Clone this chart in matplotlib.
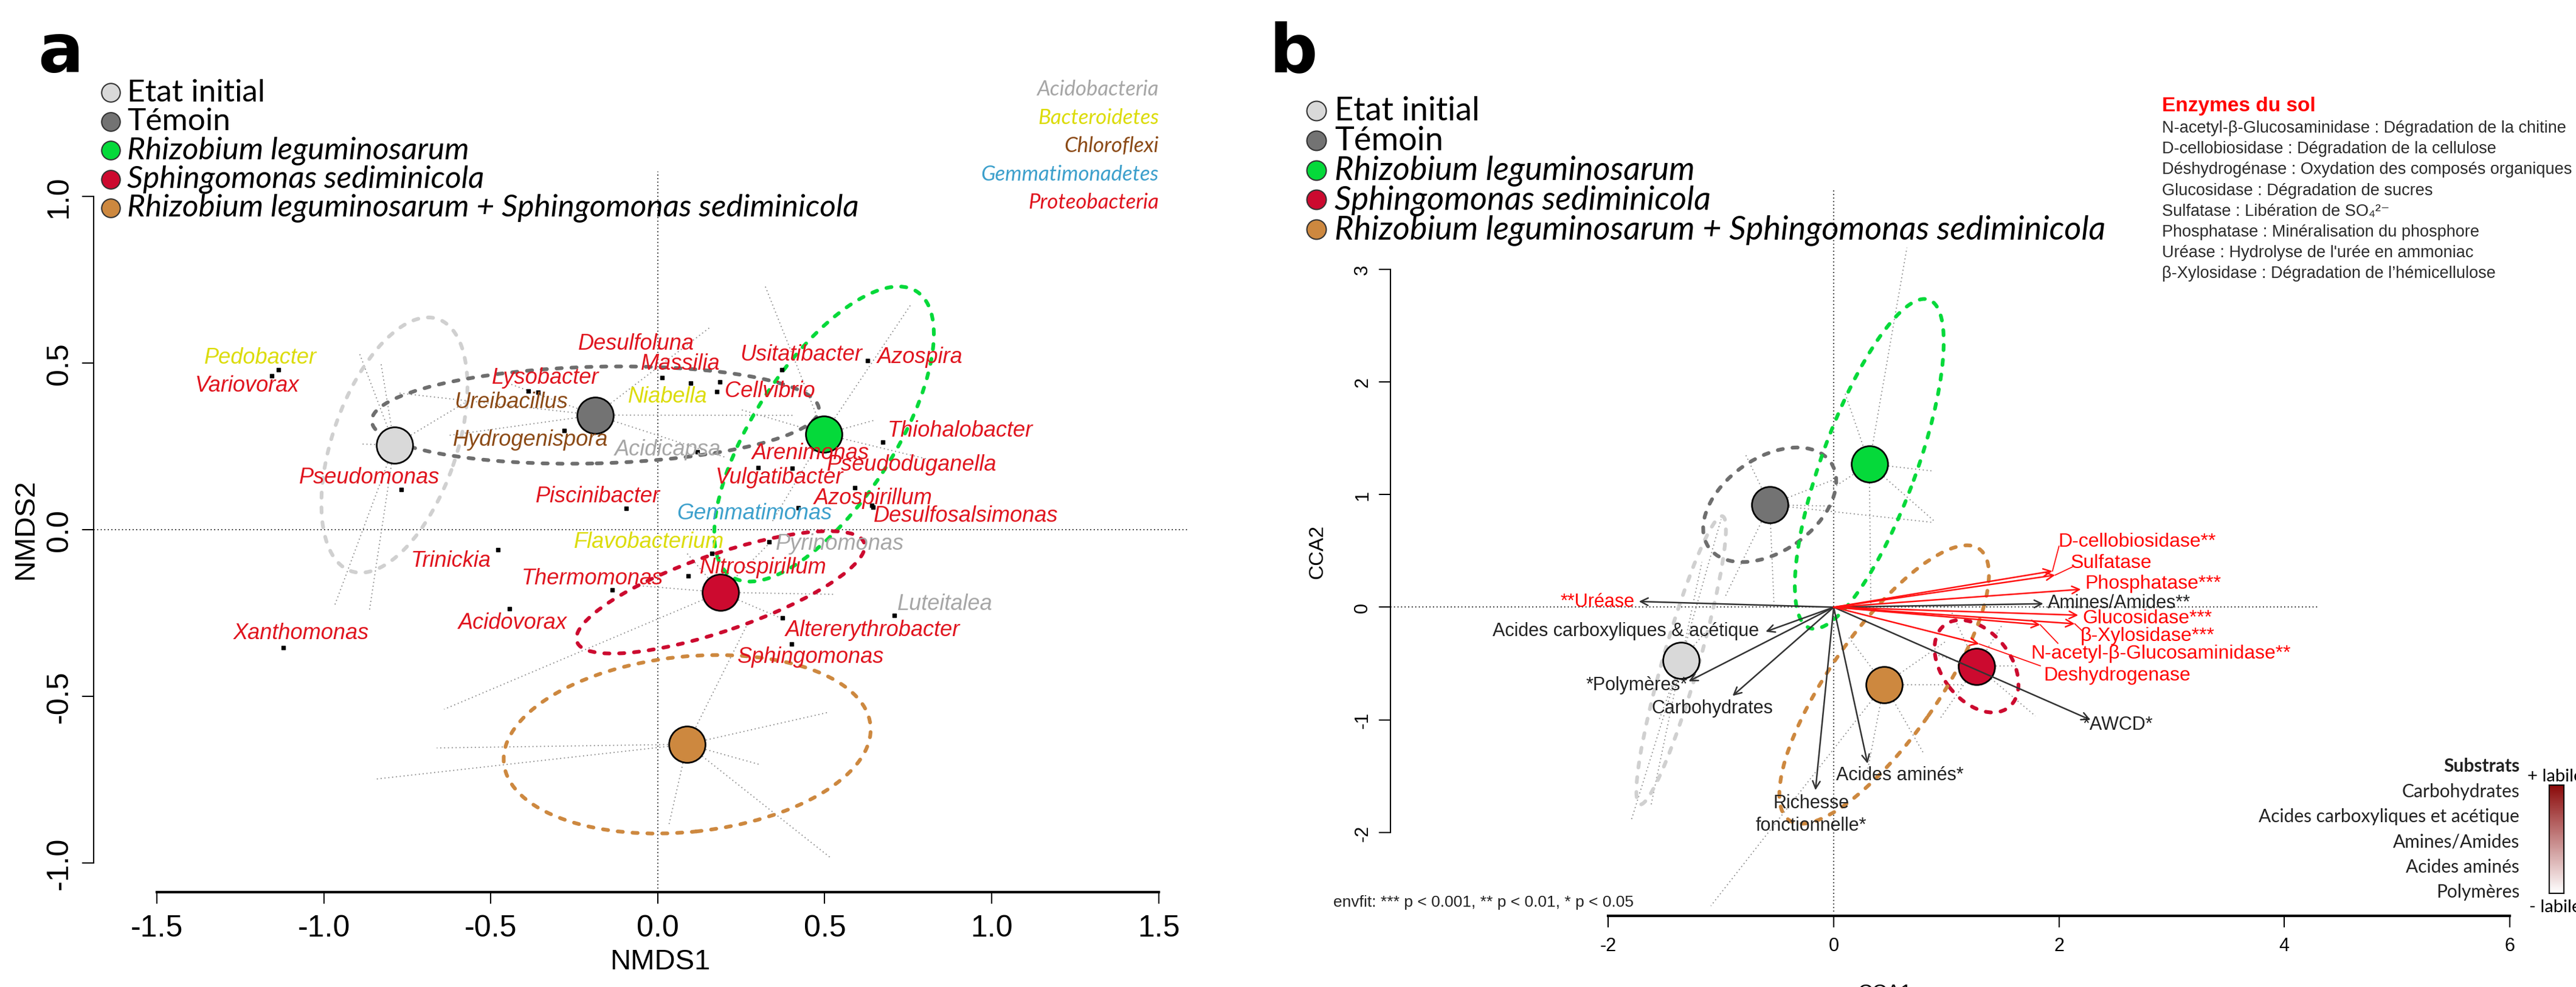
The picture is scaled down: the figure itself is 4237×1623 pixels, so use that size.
import numpy as np
import matplotlib
matplotlib.use('Agg')
import matplotlib.pyplot as plt
from matplotlib.patches import Ellipse
from matplotlib.lines import Line2D
from matplotlib.colors import LinearSegmentedColormap

plt.rcParams['font.family'] = ['Liberation Sans', 'DejaVu Sans']

W, H = 4237, 1624

# ---------------- data : panel a (NMDS) ----------------
groups = ['Etat initial', 'Témoin', 'Rhizobium leguminosarum',
          'Sphingomonas sediminicola',
          'Rhizobium leguminosarum + Sphingomonas sediminicola']
group_italic = [False, False, True, True, True]
group_fill = ['#d9d9d9', '#737373', '#05d93a', '#cc0a2f', '#cd883f']
group_line = ['#d0d0d0', '#6e6e6e', '#05d93a', '#cc0a2f', '#cd883f']

nmds_cx = [-0.789, -0.187, 0.498, 0.188, 0.088]
nmds_cy = [0.254, 0.344, 0.287, -0.188, -0.644]
nmds_ell_a = [0.40, 0.67, 0.51, 0.455, 0.552]
nmds_ell_b = [0.186, 0.145, 0.21, 0.115, 0.263]
nmds_ell_ang = [71, 1.5, 57, 19, 6]
nmds_site_x = [[-0.893, -0.83, -0.969, -0.864, -0.888, -0.58],
               [-0.776, -0.626, 0.41, 0.16, 0.20, -0.45],
               [0.32, 0.757, 0.647, 0.815, 0.34, 0.25],
               [-0.045, 0.525, 0.363, -0.64, 0.34, 0.084],
               [-0.662, -0.85, 0.507, 0.309, 0.518, 0.033, 0.27]]
nmds_site_y = [[0.527, 0.504, -0.23, -0.243, 0.257, 0.38],
               [0.41, 0.283, 0.343, 0.61, 0.218, 0.44],
               [0.735, 0.674, 0.328, 0.21, 0.02, 0.36],
               [-0.169, -0.194, -0.263, -0.539, -0.035, -0.067],
               [-0.655, -0.749, -0.549, -0.706, -0.985, -0.887, -0.28]]

phyla = ['Acidobacteria', 'Bacteroidetes', 'Chloroflexi',
         'Gemmatimonadetes', 'Proteobacteria']
phylum_col = {'Acidobacteria': '#a6a6a6', 'Bacteroidetes': '#dcdc08',
              'Chloroflexi': '#8b4a16', 'Gemmatimonadetes': '#3da0cc',
              'Proteobacteria': '#e0141e'}

genus = ['Pedobacter', 'Variovorax', 'Pseudomonas', 'Xanthomonas', 'Trinickia',
         'Acidovorax', 'Thermomonas', 'Piscinibacter', 'Flavobacterium',
         'Nitrospirillum', 'Lysobacter', 'Ureibacillus', 'Hydrogenispora',
         'Desulfoluna', 'Massilia', 'Cellvibrio', 'Niabella', 'Usitatibacter',
         'Azospira', 'Thiohalobacter', 'Pseudoduganella', 'Arenimonas',
         'Vulgatibacter', 'Azospirillum', 'Desulfosalsimonas', 'Gemmatimonas',
         'Pyrinomonas', 'Luteitalea', 'Altererythrobacter', 'Sphingomonas',
         'Acidicapsa']
genus_phylum = ['Bacteroidetes', 'Proteobacteria', 'Proteobacteria',
                'Proteobacteria', 'Proteobacteria', 'Proteobacteria',
                'Proteobacteria', 'Proteobacteria', 'Bacteroidetes',
                'Proteobacteria', 'Proteobacteria', 'Chloroflexi', 'Chloroflexi',
                'Proteobacteria', 'Proteobacteria', 'Proteobacteria',
                'Bacteroidetes', 'Proteobacteria', 'Proteobacteria',
                'Proteobacteria', 'Proteobacteria', 'Proteobacteria',
                'Proteobacteria', 'Proteobacteria', 'Proteobacteria',
                'Gemmatimonadetes', 'Acidobacteria', 'Acidobacteria',
                'Proteobacteria', 'Proteobacteria', 'Acidobacteria']
genus_x = [-1.137, -1.157, -0.769, -1.122, -0.479, -0.444, -0.136, -0.094, 0.163,
           0.092, -0.388, -0.359, -0.28, 0.012, 0.099, 0.177, 0.185, 0.371,
           0.628, 0.674, 0.59, 0.403, 0.301, 0.641, 0.645, 0.421, 0.334, 0.709,
           0.374, 0.40, 0.119]
genus_y = [0.48, 0.462, 0.12, -0.354, -0.061, -0.238, -0.181, 0.063, -0.072,
           -0.139, 0.417, 0.412, 0.298, 0.456, 0.439, 0.415, 0.444, 0.48,
           0.507, 0.263, 0.126, 0.184, 0.187, 0.073, 0.068, 0.065, -0.037,
           -0.257, -0.265, -0.343, 0.234]
# label anchor offsets (label centre minus point)
genus_lab_dx = [-0.053, -0.073, -0.095, 0.054, -0.141, 0.01, -0.06, -0.085, -0.19,
                0.224, 0.052, -0.081, -0.102, -0.077, -0.032, 0.159, -0.156,
                0.058, 0.158, 0.232, 0.17, 0.055, 0.064, 0.005, 0.277, -0.132,
                0.211, 0.152, 0.269, 0.058, -0.089]
genus_lab_dy = [0.038, -0.028, 0.037, 0.045, -0.032, -0.041, 0.036, 0.039, 0.037,
                0.027, 0.041, -0.027, -0.027, 0.104, 0.06, 0.002, -0.043, 0.047,
                0.012, 0.036, 0.071, 0.046, -0.03, 0.023, -0.026, -0.014, -0.004,
                0.036, -0.035, -0.038, 0.008]

# ---------------- data : panel b (CCA) ----------------
cca_cx = [-1.354, -0.568, 0.316, 1.268, 0.448]
cca_cy = [-0.471, 0.909, 1.272, -0.524, -0.686]
cca_ell_a = [1.33, 0.66, 1.55, 0.463, 1.47]
cca_ell_b = [0.16, 0.414, 0.42, 0.304, 0.48]
cca_ell_ang = [74, 35, 70, -52, 55]
cca_site_x = [[-1.0, -1.17, -1.8, -1.62, -1.12, -1.55],
              [-0.79, 0.02, 0.867, -0.97, -0.53, -0.01],
              [0.65, 0.867, 0.905, 0.33, -0.02, 0.1],
              [0.9, 1.79, 1.62, 1.05, 0.95, 1.5],
              [-1.09, 1.15, 1.0, 0.12, 0.3, 0.8]]
cca_site_y = [[0.78, 0.4, -1.9, -1.75, -0.2, -1.0],
              [1.37, 1.14, 0.754, 0.08, 0.03, 0.897],
              [3.19, 1.21, 0.754, 0.0, 1.05, 1.9],
              [-0.42, -0.965, -0.52, -0.05, -0.98, -0.15],
              [-2.65, -0.686, -0.3, -0.25, -1.45, -1.3]]

subs_names = ['**Uréase', 'Amines/Amides**', 'Acides carboxyliques & acétique',
              '*Polymères*', 'Carbohydrates', 'Richesse\nfonctionnelle*',
              'Acides aminés*', '*AWCD*']
subs_x = [-1.729, 1.861, -0.604, -1.288, -0.898, -0.162, 0.301, 2.28]
subs_y = [0.051, 0.031, -0.217, -0.658, -0.787, -1.624, -1.388, -1.0]
subs_txtcol = ['#ff0000', '#222222', '#222222', '#222222', '#222222', '#222222',
               '#222222', '#222222']

enz_names = ['D-cellobiosidase**', 'Sulfatase', 'Phosphatase***', 'Glucosidase***',
             'β-Xylosidase***', 'N-acetyl-β-Glucosaminidase**', 'Deshydrogenase']
enz_x = [1.942, 1.966, 2.195, 2.171, 2.14, 1.834, 1.292]
enz_y = [0.321, 0.285, 0.159, -0.071, -0.147, -0.156, -0.326]

enz_legend = ['N-acetyl-β-Glucosaminidase : Dégradation de la chitine',
              'D-cellobiosidase : Dégradation de la cellulose',
              'Déshydrogénase : Oxydation des composés organiques',
              'Glucosidase : Dégradation de sucres',
              'Sulfatase : Libération de SO₄²⁻',
              'Phosphatase : Minéralisation du phosphore',
              "Uréase : Hydrolyse de l'urée en ammoniac",
              'β-Xylosidase : Dégradation de l’hémicellulose']
subs_legend = ['Carbohydrates', 'Acides carboxyliques et acétique',
               'Amines/Amides', 'Acides aminés', 'Polymères']


def fx(x):
    return x / W


def fy(y):
    return 1 - y / H


def frame(ax, xt, xl, yt, yl, fs, xpad, ypad, lwb, lwl):
    for s in ['top', 'right']:
        ax.spines[s].set_visible(False)
    ax.spines['bottom'].set_bounds(xt[0], xt[-1])
    ax.spines['left'].set_bounds(yt[0], yt[-1])
    ax.spines['bottom'].set_linewidth(lwb)
    ax.spines['left'].set_linewidth(lwl)
    ax.set_xticks(xt, xl)
    ax.set_yticks(yt, yl)
    ax.tick_params(axis='x', length=14, width=lwl, labelsize=fs, pad=xpad)
    ax.tick_params(axis='y', length=14, width=lwl, labelsize=fs, pad=ypad)
    for t in ax.get_yticklabels():
        t.set_rotation(90)
        t.set_va('center')


def spiders(ax, cx, cy, sx, sy):
    for i in range(len(cx)):
        for x, y in zip(sx[i], sy[i]):
            ax.plot([cx[i], x], [cy[i], y], color='#8a8a8a', lw=1.3,
                    ls=(0, (1, 2.5)), zorder=1)


def ellipses(ax, cx, cy, ea, eb, ang):
    for i in range(len(cx)):
        e = Ellipse((cx[i], cy[i]), 2 * ea[i], 2 * eb[i], angle=ang[i],
                    fill=False, ec=group_line[i], lw=4.4, ls=(0, (1.4, 2.6)),
                    zorder=2)
        e.set_capstyle('round')
        ax.add_patch(e)


def centroids(ax, cx, cy):
    for i in range(len(cx)):
        ax.plot(cx[i], cy[i], 'o', ms=43, mfc=group_fill[i], mec='black',
                mew=2, zorder=5)


def group_legend(x0, y0, dy, gap, fs, ms):
    for i, g in enumerate(groups):
        y = y0 + i * dy
        fig.add_artist(Line2D([fx(x0)], [fy(y)], marker='o', ms=ms,
                              mfc=group_fill[i], mec='#333333', mew=1.5,
                              transform=fig.transFigure))
        fig.text(fx(x0 + gap), fy(y), g, fontsize=fs, family='Lato',
                 style='italic' if group_italic[i] else 'normal',
                 ha='left', va='center')


fig = plt.figure(figsize=(W / 100, H / 100), dpi=100)

# ================= panel a =================
axa = fig.add_axes([fx(154), fy(1467.6), (1955 - 154) / W, (1467.6 - 283) / H])
axa.set_xlim(-1.69, 1.59)
axa.set_ylim(-1.087, 1.075)
frame(axa, [-1.5, -1.0, -0.5, 0.0, 0.5, 1.0, 1.5],
      ['-1.5', '-1.0', '-0.5', '0.0', '0.5', '1.0', '1.5'],
      [-1.0, -0.5, 0.0, 0.5, 1.0], ['-1.0', '-0.5', '0.0', '0.5', '1.0'],
      36, 12, 10, 3.0, 1.5)
axa.axhline(0, color='black', lw=1.2, ls=(0, (1, 2.5)), zorder=1)
axa.axvline(0, color='black', lw=1.2, ls=(0, (1, 2.5)), zorder=1)

spiders(axa, nmds_cx, nmds_cy, nmds_site_x, nmds_site_y)
ellipses(axa, nmds_cx, nmds_cy, nmds_ell_a, nmds_ell_b, nmds_ell_ang)
centroids(axa, nmds_cx, nmds_cy)

axa.plot(genus_x, genus_y, 's', color='black', ms=4, zorder=4)
for i, g in enumerate(genus):
    axa.text(genus_x[i] + genus_lab_dx[i], genus_y[i] + genus_lab_dy[i], g,
             color=phylum_col[genus_phylum[i]], fontsize=26, style='italic',
             ha='center', va='center', zorder=6)

fig.text(fx(1086), fy(1582), 'NMDS1', fontsize=34, ha='center', va='center')
fig.text(fx(42), fy(870), 'NMDS2', fontsize=34, rotation=90,
         ha='center', va='center')
fig.text(fx(100), fy(88), 'a', fontsize=80, fontweight='bold',
         family='DejaVu Sans', ha='center', va='center')

group_legend(182, 153, 47.5, 27, 37, 22)
for i, p in enumerate(phyla):
    fig.text(fx(1906), fy(147 + i * 46.6), p, fontsize=25, family='Lato',
             style='italic', color=phylum_col[p], ha='right', va='center')

# ================= panel b =================
axb = fig.add_axes([fx(2286.7), fy(1507.4), (W - 2286.7) / W, (1507.4 - 313) / H])
axb.set_xlim(-3.936, -3.936 + (W - 2286.7) / 185.3)
axb.set_ylim(-2.741, -2.741 + (1507.4 - 313) / 185.3)
frame(axb, [-2, 0, 2, 4, 6], ['-2', '0', '2', '4', '6'],
      [-2, -1, 0, 1, 2, 3], ['-2', '-1', '0', '1', '2', '3'],
      22, 10, 8, 3.0, 1.5)
axb.hlines(0, -3.936, 4.31, color='black', lw=1.2, ls=(0, (1, 2.5)), zorder=1)
axb.vlines(0, -2.7, 3.705, color='black', lw=1.2, ls=(0, (1, 2.5)), zorder=1)

spiders(axb, cca_cx, cca_cy, cca_site_x, cca_site_y)
ellipses(axb, cca_cx, cca_cy, cca_ell_a, cca_ell_b, cca_ell_ang)
centroids(axb, cca_cx, cca_cy)

for x, y in zip(subs_x, subs_y):
    axb.annotate('', xy=(x, y), xytext=(0, 0),
                 arrowprops=dict(arrowstyle='->', color='#333333', lw=1.8,
                                 mutation_scale=22, shrinkA=0, shrinkB=0),
                 zorder=6)
for x, y in zip(enz_x, enz_y):
    axb.annotate('', xy=(x, y), xytext=(0, 0),
                 arrowprops=dict(arrowstyle='->', color='#ff1010', lw=1.8,
                                 mutation_scale=22, shrinkA=0, shrinkB=0),
                 zorder=6)

# substrate labels: (dx, dy, ha) relative to the arrow tip
subs_lab = [(-0.04, 0.0, 'right'), (0.04, 0.012, 'left'), (-0.06, 0.01, 'right'),
            (-0.01, -0.03, 'right'), (-0.18, -0.106, 'center'),
            (-0.04, -0.21, 'center'), (-0.28, -0.097, 'left'),
            (-0.07, -0.04, 'left')]
for i, s in enumerate(subs_names):
    dx, dy, ha = subs_lab[i]
    axb.text(subs_x[i] + dx, subs_y[i] + dy, s, fontsize=22, color=subs_txtcol[i],
             ha=ha, va='center', linespacing=1.3, zorder=7)

# enzyme labels: label anchor and leader-line end relative to tip
enz_lab = [(0.051, 0.265, 0.058, 0.22), (0.138, 0.112, 0.152, 0.072),
           (0.034, 0.054, None, None), (0.036, -0.026, None, None),
           (0.05, -0.103, 0.067, -0.063), (-0.084, -0.254, 0.156, -0.164),
           (0.569, -0.274, 0.542, -0.194)]
for i, s in enumerate(enz_names):
    dx, dy, lx, ly = enz_lab[i]
    if lx is not None:
        axb.plot([enz_x[i], enz_x[i] + lx], [enz_y[i], enz_y[i] + ly],
                 color='#ff1010', lw=1.3, zorder=6)
    axb.text(enz_x[i] + dx, enz_y[i] + dy, s, fontsize=23, color='#ff0000',
             ha='left', va='center', zorder=7)

fig.text(fx(2193), fy(1484), 'envfit: *** p < 0.001, ** p < 0.01, * p < 0.05',
         fontsize=19, color='#222222', ha='left', va='center')
fig.text(fx(2167), fy(908), 'CCA2', fontsize=24, rotation=90,
         ha='center', va='center')
fig.text(fx(3100), fy(1634), 'CCA1', fontsize=24, ha='center', va='center')
fig.text(fx(2127), fy(88), 'b', fontsize=80, fontweight='bold',
         family='DejaVu Sans', ha='center', va='center')

group_legend(2165, 183, 48.8, 30, 39, 23)

fig.text(fx(3556), fy(175), 'Enzymes du sol', fontsize=24, fontweight='bold',
         color='#ff0000', ha='left', va='center')
for i, s in enumerate(enz_legend):
    fig.text(fx(3556), fy(211 + i * 34.2), s, fontsize=19.5, color='#2b2b2b',
             ha='left', va='center')

fig.text(fx(4144), fy(1260), 'Substrats', fontsize=21.5, family='Lato',
         fontweight='bold', color='#222222', ha='right', va='center')
for i, s in enumerate(subs_legend):
    fig.text(fx(4144), fy(1302 + i * 41.2), s, fontsize=21.5, family='Lato',
             color='#222222', ha='right', va='center')

cax = fig.add_axes([fx(4193), fy(1470), 24 / W, 178.5 / H])
cmap = LinearSegmentedColormap.from_list('lab', ['#ffffff', '#8b0a0a'])
cax.imshow(np.linspace(0, 1, 200).reshape(-1, 1), cmap=cmap, aspect='auto',
           origin='lower')
cax.set_xticks([])
cax.set_yticks([])
for s in cax.spines.values():
    s.set_linewidth(1.5)
fig.text(fx(4157), fy(1277), '+ labile', fontsize=21, family='Lato',
         ha='left', va='center')
fig.text(fx(4160), fy(1492), '- labile', fontsize=21, family='Lato',
         ha='left', va='center')

fig.savefig('out.png', dpi=100)
